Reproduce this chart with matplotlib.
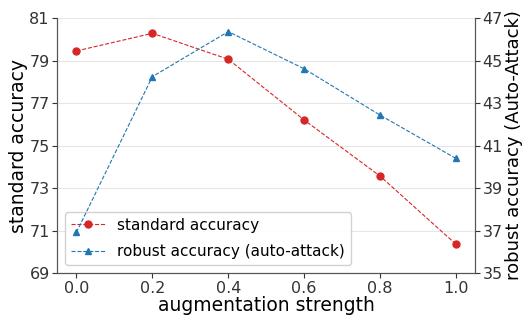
import numpy as np
import matplotlib
matplotlib.use('Agg')
import matplotlib.pyplot as plt

strength = [0.0, 0.2, 0.4, 0.6, 0.8, 1.0]
standard_acc = [79.45, 80.28, 79.06, 76.2, 73.56, 70.35]
robust_acc = [36.91, 44.24, 46.36, 44.61, 42.43, 40.39]

RED = '#d62728'
BLUE = '#1f77b4'
TXT = '#333333'

fig, ax = plt.subplots(figsize=(5.22, 3.16), dpi=100)
ax2 = ax.twinx()

l1, = ax.plot(strength, standard_acc, color=RED, linestyle='--', linewidth=0.8,
              marker='o', markersize=5, label='standard accuracy')
l2, = ax2.plot(strength, robust_acc, color=BLUE, linestyle='--', linewidth=0.8,
               marker='^', markersize=5, label='robust accuracy (auto-attack)')

ax.set_xlim(-0.05, 1.05)
ax.set_ylim(69, 81)
ax2.set_ylim(35, 47)
ax.set_xticks(strength)
ax.set_yticks(np.arange(69, 82, 2))
ax2.set_yticks(np.arange(35, 48, 2))
ax.grid(axis='y', color='#e6e6e6', linewidth=0.8)
ax.set_axisbelow(True)

for a in (ax, ax2):
    a.spines['top'].set_visible(False)
    for s in a.spines.values():
        s.set_color('#555555')
    a.tick_params(labelsize=11.5, colors=TXT, length=3.5, pad=2)

ax.set_xlabel('augmentation strength', fontsize=13.5, color='black', labelpad=0)
ax.set_ylabel('standard accuracy', fontsize=13.5, color='black', labelpad=1)
ax2.set_ylabel('robust accuracy (Auto-Attack)', fontsize=13, color='black', labelpad=1.5)

ax.legend(handles=[l1, l2], loc='lower left', fontsize=11, framealpha=0.9,
          borderaxespad=0.5, handlelength=2.2, labelspacing=0.75)

fig.subplots_adjust(left=0.11, right=0.91, top=0.943, bottom=0.136)
fig.savefig('out.png', dpi=100)
